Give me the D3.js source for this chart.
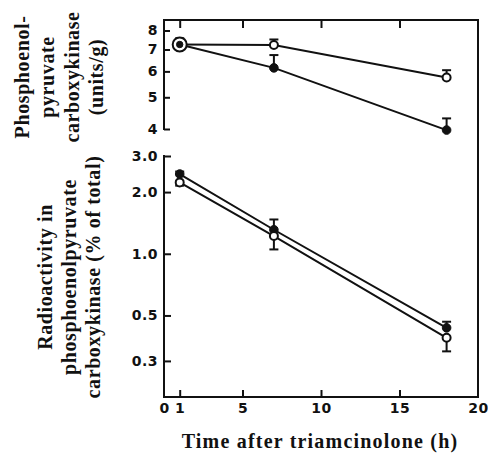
<!DOCTYPE html>
<html><head><meta charset="utf-8">
<script src="https://cdn.jsdelivr.net/npm/d3@7"></script>
<style>
body{margin:0;background:#fff;}
svg{display:block;}
.tick text{font-family:"DejaVu Sans",sans-serif;font-weight:bold;font-size:14px;fill:#111;letter-spacing:0.5px;}
.title{font-family:"Liberation Serif","Times New Roman",serif;font-weight:bold;font-size:20px;fill:#111;}
</style></head>
<body>
<svg id="c" width="488" height="457"></svg>
<script>
// ---- data ----
const times = [1, 7, 18];
const xTicks = [0, 1, 5, 10, 15, 20];
const topTicks = [4, 5, 6, 7, 8];
const botTicks = [0.3, 0.5, 1.0, 2.0, 3.0];
// Phosphoenolpyruvate carboxykinase (units/g)
const pepckOpen = [7.25, 7.22, 5.75];
const pepckOpenUpper = [7.56, 7.51, 6.05];
const pepckClosed = [7.25, 6.15, 3.97];
const pepckClosedUpper = [7.56, 6.73, 4.31];
// Radioactivity in PEPCK (% of total)
const radioClosed = [2.45, 1.31, 0.435];
const radioClosedUpper = [2.52, 1.47, 0.466];
const radioOpen = [2.23, 1.22, 0.389];
const radioOpenLower = [2.15, 1.05, 0.334];

const svg = d3.select("#c");
const ink = "#111";
const x = d3.scaleLinear().domain([0, 20]).range([164, 478]);
const yTop = d3.scaleLog().domain([4, 8]).range([129, 30.5]);
const yBot = d3.scaleLog().domain([0.2, 3]).range([397, 156]);
const frameTop = 20;

// frame lines
const fl = [
  [x(0), frameTop, x(20), frameTop],
  [x(20), frameTop, x(20), yBot(0.2)],
  [x(0), yBot(0.2), x(20), yBot(0.2)],
  [x(0), frameTop, x(0), yTop(4)],
  [x(0), yBot(3), x(0), yBot(0.2)]
];
svg.selectAll("line.frame").data(fl).enter().append("line")
  .attr("x1", d => d[0]).attr("y1", d => d[1]).attr("x2", d => d[2]).attr("y2", d => d[3])
  .attr("stroke", ink).attr("stroke-width", 2).attr("stroke-linecap", "square");

function styleAxis(g) {
  g.select(".domain").remove();
  g.selectAll(".tick line").attr("stroke", ink).attr("stroke-width", 2);
}
// bottom axis
svg.append("g").attr("transform", `translate(0,${yBot(0.2)})`)
  .call(d3.axisBottom(x).tickValues(xTicks).tickSizeInner(-7).tickSizeOuter(0).tickPadding(6).tickFormat(d3.format("d")))
  .call(styleAxis)
  .call(g => g.selectAll(".tick line").filter(d => d === 0 || d === 20).remove());
// top frame ticks
svg.append("g").attr("transform", `translate(0,${frameTop})`)
  .call(d3.axisTop(x).tickValues(xTicks.filter(d => d > 0 && d < 20)).tickSizeInner(-8).tickSizeOuter(0).tickFormat(""))
  .call(styleAxis);
// left axes
svg.append("g").attr("transform", `translate(${x(0)},0)`)
  .call(d3.axisLeft(yTop).tickValues(topTicks).tickSizeInner(-6).tickSizeOuter(0).tickPadding(6).tickFormat(d3.format("d")))
  .call(styleAxis);
svg.append("g").attr("transform", `translate(${x(0)},0)`)
  .call(d3.axisLeft(yBot).tickValues(botTicks).tickSizeInner(-7).tickSizeOuter(0).tickPadding(6).tickFormat(d3.format(".1f")))
  .call(styleAxis);

// helpers
const zip = (vals) => times.map((t, i) => ({t, v: vals[i], i}));
function series(y, vals) {
  const line = d3.line().x(d => x(d.t)).y(d => y(d.v));
  svg.append("path").datum(zip(vals)).attr("d", line)
    .attr("fill", "none").attr("stroke", ink).attr("stroke-width", 2);
}
function errorBars(y, vals, ends) {
  const d = zip(vals).map((p, i) => ({...p, e: ends[i]}));
  const g = svg.append("g");
  g.selectAll("line.v").data(d).enter().append("line")
    .attr("x1", p => x(p.t)).attr("x2", p => x(p.t))
    .attr("y1", p => y(p.v)).attr("y2", p => y(p.e))
    .attr("stroke", ink).attr("stroke-width", 2);
  g.selectAll("line.c").data(d).enter().append("line")
    .attr("x1", p => x(p.t) - 4.5).attr("x2", p => x(p.t) + 4.5)
    .attr("y1", p => y(p.e)).attr("y2", p => y(p.e))
    .attr("stroke", ink).attr("stroke-width", 2);
}
function markers(y, vals, filled, rFn) {
  svg.append("g").selectAll("circle").data(zip(vals)).enter().append("circle")
    .attr("cx", p => x(p.t)).attr("cy", p => y(p.v)).attr("r", p => rFn(p.i))
    .attr("fill", filled ? ink : "#fff").attr("stroke", ink).attr("stroke-width", filled ? 1 : 2);
}

// top panel
series(yTop, pepckOpen);
series(yTop, pepckClosed);
errorBars(yTop, pepckOpen, pepckOpenUpper);
errorBars(yTop, pepckClosed, pepckClosedUpper);
markers(yTop, pepckOpen, false, i => i === 0 ? 7 : 4);
markers(yTop, pepckClosed, true, i => i === 0 ? 3.2 : 4.3);

// bottom panel
series(yBot, radioClosed);
series(yBot, radioOpen);
errorBars(yBot, radioClosed, radioClosedUpper);
errorBars(yBot, radioOpen, radioOpenLower);
markers(yBot, radioClosed, true, () => 4.3);
markers(yBot, radioOpen, false, () => 4);

// titles
svg.append("text").attr("class", "title").attr("x", 320).attr("y", 448)
  .attr("text-anchor", "middle").attr("letter-spacing", "1.2px").text("Time after triamcinolone (h)");
function vTitle(lines, xs, cy) {
  lines.forEach((s, i) => {
    svg.append("text").attr("class", "title")
      .attr("transform", `translate(${xs[i]},${cy}) rotate(-90)`)
      .attr("text-anchor", "middle").attr("dy", "0.35em").attr("letter-spacing", "0.6px").text(s);
  });
}
vTitle(["Phosphoenol-", "pyruvate", "carboxykinase", "(units/g)"], [22, 47, 72, 96], 77);
vTitle(["Radioactivity in", "phosphoenolpyruvate", "carboxykinase (% of total)"], [45, 69, 93], 277);
</script>
</body></html>
